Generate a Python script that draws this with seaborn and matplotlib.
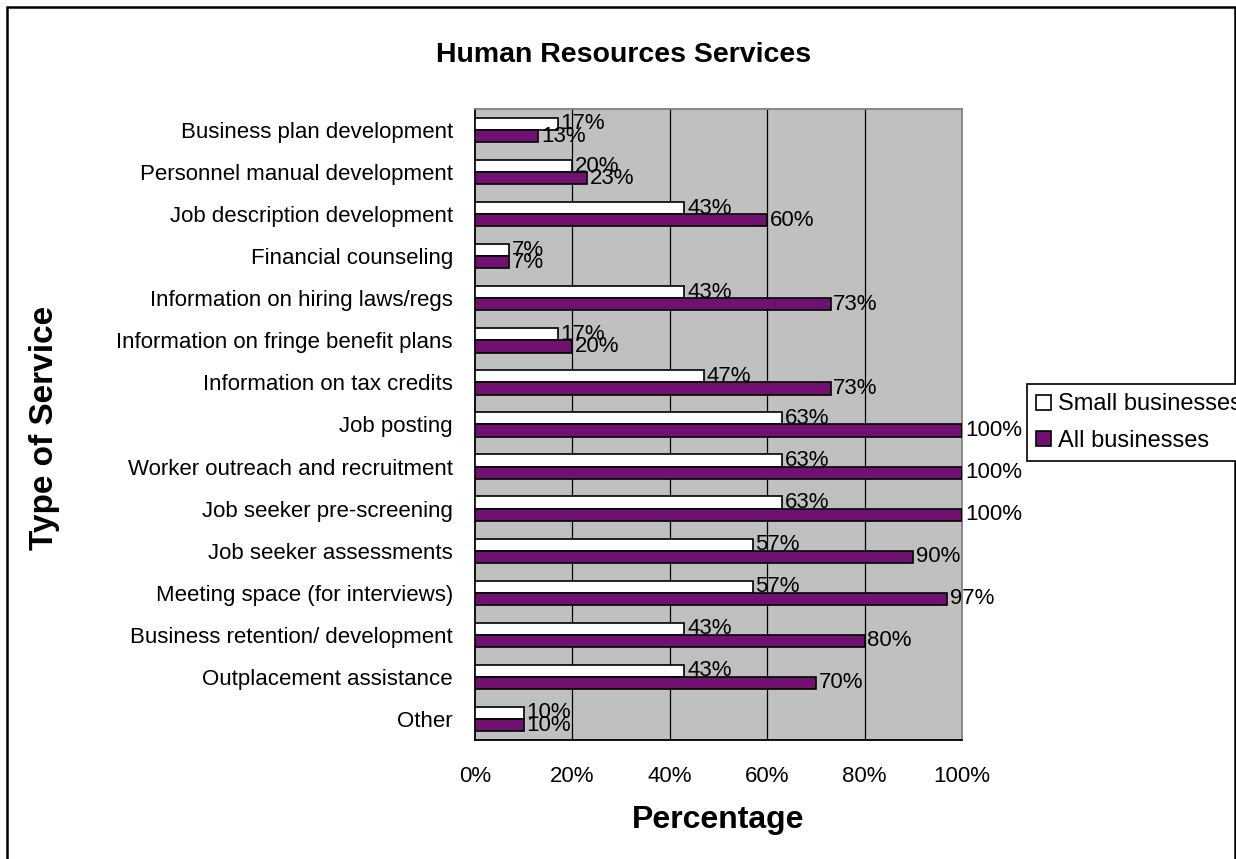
import matplotlib
matplotlib.use("Agg")
import matplotlib.pyplot as plt
from matplotlib.patches import Rectangle
import seaborn as sns
import pandas as pd

services = [
    "Business plan development",
    "Personnel manual development",
    "Job description development",
    "Financial counseling",
    "Information on hiring laws/regs",
    "Information on fringe benefit plans",
    "Information on tax credits",
    "Job posting",
    "Worker outreach and recruitment",
    "Job seeker pre-screening",
    "Job seeker assessments",
    "Meeting space (for interviews)",
    "Business retention/ development",
    "Outplacement assistance",
    "Other",
]
small_businesses = [17, 20, 43, 7, 43, 17, 47, 63, 63, 63, 57, 57, 43, 43, 10]
all_businesses = [13, 23, 60, 7, 73, 20, 73, 100, 100, 100, 90, 97, 80, 70, 10]
series_names = ["Small businesses", "All businesses"]
x_ticks = [0, 20, 40, 60, 80, 100]
x_tick_labels = ["0%", "20%", "40%", "60%", "80%", "100%"]

df = pd.DataFrame({
    "Service": services * 2,
    "Value": small_businesses + all_businesses,
    "Series": [series_names[0]] * len(services) + [series_names[1]] * len(services),
})

sns.set_style("white")
plt.rcParams["font.family"] = ["Liberation Sans", "DejaVu Sans"]
for key in ["text.color", "axes.labelcolor", "xtick.color", "ytick.color"]:
    plt.rcParams[key] = "black"

TXT = 16

W, H = 1236, 859
fig = plt.figure(figsize=(W / 100, H / 100), dpi=100)
ax = fig.add_axes([475 / W, 1 - 740 / H, (962 - 475) / W, (740 - 109) / H])
ax.set_facecolor("#C0C0C0")

sns.barplot(
    data=df, y="Service", x="Value", hue="Series",
    order=services, hue_order=series_names,
    palette=["white", "#800080"], edgecolor="black", linewidth=1.2,
    orient="h", width=0.58, ax=ax, zorder=3,
)

for cont, vals in zip(ax.containers, [small_businesses, all_businesses]):
    ax.bar_label(cont, labels=[f"{v}%" for v in vals], padding=2,
                 fontsize=TXT, color="black", zorder=4)

ax.set_xlim(0, 100)
ax.set_ylim(len(services) - 0.5, -0.5)
ax.set_xticks(x_ticks)
ax.set_xticklabels(x_tick_labels, fontsize=TXT)
ax.set_yticks(range(len(services)))
ax.set_yticklabels(services, fontsize=TXT)
ax.set_xlabel("")
ax.set_ylabel("")

# vertical gridlines
for xv in x_ticks[1:-1]:
    ax.axvline(xv, color="black", linewidth=0.9, zorder=1)

# category boundary ticks on the y axis
ax.set_yticks([i - 0.5 for i in range(len(services) + 1)], minor=True)
ax.tick_params(axis="y", which="major", length=0, pad=16)
ax.tick_params(axis="y", which="minor", length=6, width=1.2, color="black", direction="out")
ax.tick_params(axis="x", which="major", length=6, width=1.2, color="black", direction="out", pad=13)

for side in ["left", "bottom"]:
    ax.spines[side].set_color("black")
    ax.spines[side].set_linewidth(1.3)
for side in ["top", "right"]:
    ax.spines[side].set_color("#808080")
    ax.spines[side].set_linewidth(1.3)
    ax.spines[side].set_visible(True)

handles, labels = ax.get_legend_handles_labels()
ax.get_legend().remove()
fig.legend(handles, labels, loc="upper left",
           bbox_to_anchor=(1027 / W, 1 - 384 / H), bbox_transform=fig.transFigure,
           fontsize=17, frameon=True, fancybox=False, edgecolor="black",
           framealpha=1, borderaxespad=0, handlelength=0.6, handleheight=0.6,
           handletextpad=0.3, labelspacing=0.6, borderpad=0.4)
fig.legends[0].get_frame().set_linewidth(1.2)

fig.text(624 / W, 1 - 55 / H, "Human Resources Services", ha="center", va="center",
         fontsize=20.5, fontweight="bold")
fig.text(718 / W, 1 - 820 / H, "Percentage", ha="center", va="center",
         fontsize=23, fontweight="bold")
fig.text(45 / W, 1 - 428 / H, "Type of Service", ha="center", va="center",
         rotation=90, fontsize=24, fontweight="bold")

fig.patches.append(Rectangle((7 / W, -0.05), (1235 - 7) / W, 1.05 - 7 / H,
                             transform=fig.transFigure, fill=False,
                             edgecolor="black", linewidth=1.8))

fig.savefig("out.png", dpi=100)
